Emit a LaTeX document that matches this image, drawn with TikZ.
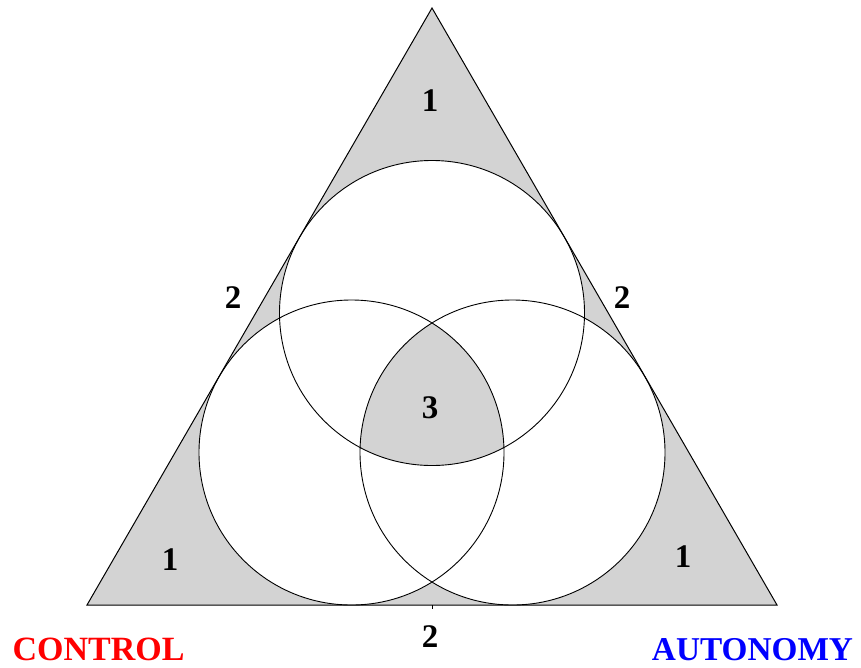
\documentclass[tikz,border=0pt]{standalone}
\usepackage{fontspec}
\setmainfont{Liberation Serif}
\begin{document}
\begin{tikzpicture}[x=1pt,y=-1pt,
  lbl/.style={font=\fontsize{33}{36}\selectfont\bfseries, inner sep=0pt},
  big/.style={font=\fontsize{34}{38}\selectfont\bfseries, inner sep=0pt},
  shade/.style={fill={rgb,255:red,211;green,211;blue,211}},
  ring/.style={draw=black, line width=0.9pt}]
\useasboundingbox (0,0) rectangle (861,667);
\coordinate (T) at (432,8);
\coordinate (L) at (87,605);
\coordinate (R) at (777,605);
\coordinate (ct) at (432,313);
\coordinate (cl) at (351.5,452.5);
\coordinate (cr) at (512.5,452.5);
% shaded triangle
\fill[shade] (T) -- (L) -- (R) -- cycle;
% white circles
\fill[white] (ct) circle (152.5);
\fill[white] (cl) circle (152.5);
\fill[white] (cr) circle (152.5);
% triple intersection
\begin{scope}
  \clip (ct) circle (152.5);
  \clip (cl) circle (152.5);
  \fill[shade] (cr) circle (152.5);
\end{scope}
% outlines
\draw[ring] (ct) circle (152.5);
\draw[ring] (cl) circle (152.5);
\draw[ring] (cr) circle (152.5);
\draw[line width=1pt, line join=miter] (T) -- (L) -- (R) -- cycle;
\coordinate (tb) at (432,605);
\coordinate (tk) at (432,609);
\draw[line width=0.6pt] (tb) -- (tk);
% labels
\node[lbl] (n1t) at (430,101) {1};
\node[lbl] (n1l) at (170,560) {1};
\node[lbl] (n1r) at (683,557) {1};
\node[lbl] (n2l) at (233,298) {2};
\node[lbl] (n2r) at (622,298) {2};
\node[lbl] (n2b) at (430,637) {2};
\node[lbl] (n3) at (430,408) {3};
\node[big, text={rgb,255:red,255;green,0;blue,0}, anchor=base] (ctl) at (98.5,660) {CONTROL};
\node[big, font=\fontsize{33.3}{38}\selectfont\bfseries, text={rgb,255:red,0;green,0;blue,255}, anchor=base] (aut) at (752.5,660) {AUTONOMY};
\end{tikzpicture}
\end{document}
